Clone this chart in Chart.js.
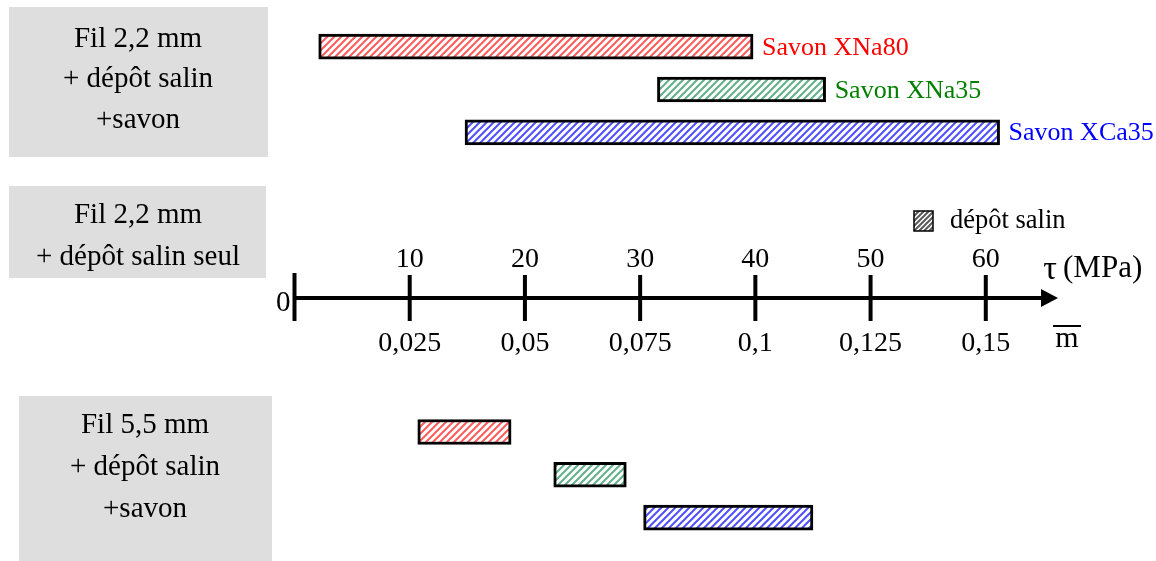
<!DOCTYPE html>
<html lang="fr">
<head>
<meta charset="utf-8">
<title>Plages de contrainte - fil et savons</title>
<script src="https://cdn.jsdelivr.net/npm/chart.js@4.4.1/dist/chart.umd.min.js"></script>
<style>
  html, body { margin: 0; padding: 0; background: #fff; }
  #wrap { width: 1156px; height: 561px; position: relative; }
</style>
</head>
<body>
<div id="wrap"><canvas id="chart"></canvas></div>
<script>
// savons testes
const codes = ["XNa80", "XNa35", "XCa35"];
const soaps = codes.map((c) => "Savon " + c);

// plages de tau (MPa) - fil 2,2 mm + depot salin + savon
const fil22Start = [2.1, 31.5, 14.8];
const fil22End = [39.8, 46.1, 61.2];

// plages de tau (MPa) - fil 5,5 mm + depot salin + savon
const fil55Start = [10.7, 22.5, 30.3];
const fil55End = [18.8, 28.8, 45.0];

// graduations : tau en MPa au-dessus, m barre en dessous
const tauTicks = [0, 10, 20, 30, 40, 50, 60];
const mTicks = ["", "0,025", "0,05", "0,075", "0,1", "0,125", "0,15"];

// lignes du schema (les lignes vides laissent la place a l'axe)
const rows = ["2,2 XNa80", "2,2 XNa35", "2,2 XCa35", "", "", "", "", "", "", "5,5 XNa80", "5,5 XNa35", "5,5 XCa35"];

// textes des cadres gris
const boxTexts = [
  ["Fil 2,2 mm", "+ dépôt salin", "+savon"],
  ["Fil 2,2 mm", "+ dépôt salin seul"],
  ["Fil 5,5 mm", "+ dépôt salin", "+savon"],
];

// ---- mise en page ----
const SERIF = "'Liberation Serif', 'Times New Roman', serif";
const AXIS_Y = 298;
const boxes = [
  { x: 9, y: 7, w: 259, h: 150, cx: 138, base: [47, 87, 128] },
  { x: 9, y: 186, w: 257, h: 92, cx: 138, base: [223, 265] },
  { x: 19, y: 396, w: 253, h: 165, cx: 145, base: [433, 475, 517] },
];
const stripeColors = ["#ff5c5c", "#63b08a", "#5050ff"];
const labelColors = ["#ff0000", "#008000", "#0000ff"];

const canvas = document.getElementById("chart");
const ctx = canvas.getContext("2d");

// hachures obliques couleur sur fond blanc
function hatch(color, size, width) {
  const c = document.createElement("canvas");
  c.width = size;
  c.height = size;
  const g = c.getContext("2d");
  g.fillStyle = "#fff";
  g.fillRect(0, 0, size, size);
  g.strokeStyle = color;
  g.lineWidth = width;
  g.beginPath();
  g.moveTo(-1, size + 1); g.lineTo(size + 1, -1);
  g.moveTo(-1, 1); g.lineTo(1, -1);
  g.moveTo(size - 1, size + 1); g.lineTo(size + 1, size - 1);
  g.stroke();
  return ctx.createPattern(c, "repeat");
}

function text(c, str, x, y, size, color, align) {
  c.font = size + "px " + SERIF;
  c.fillStyle = color;
  c.textAlign = align || "center";
  c.textBaseline = "alphabetic";
  c.fillText(str, x, y);
}

const datasets = codes.map((code, i) => {
  const data = rows.map(() => null);
  data[rows.indexOf("2,2 " + code)] = [fil22Start[i], fil22End[i]];
  data[rows.indexOf("5,5 " + code)] = [fil55Start[i], fil55End[i]];
  return {
    label: soaps[i],
    data: data,
    backgroundColor: hatch(stripeColors[i], 7, 2),
    borderColor: "#000",
    borderWidth: 3,
    borderSkipped: false,
    barThickness: 25,
    grouped: false,
    clip: false,
  };
});

const decor = {
  id: "decor",
  beforeDatasetsDraw(chart) {
    const c = chart.ctx;
    // cadres gris
    boxes.forEach((b, i) => {
      c.fillStyle = "#dedede";
      c.fillRect(b.x, b.y, b.w, b.h);
      boxTexts[i].forEach((line, k) => text(c, line, b.cx, b.base[k], 29, "#000"));
    });
    // legende depot salin
    c.fillStyle = hatch("#5a5a5a", 5, 2);
    c.fillRect(914, 211, 19, 20);
    c.strokeStyle = "#000";
    c.lineWidth = 1.5;
    c.strokeRect(914, 211, 19, 20);
    text(c, "dépôt salin", 950, 228, 26.5, "#000", "left");
  },
  afterDatasetsDraw(chart) {
    const c = chart.ctx;
    const x = chart.scales.x;
    // axe avec fleche
    c.strokeStyle = "#000";
    c.fillStyle = "#000";
    c.lineWidth = 4;
    c.beginPath();
    c.moveTo(x.getPixelForValue(0), AXIS_Y);
    c.lineTo(1044, AXIS_Y);
    c.stroke();
    c.beginPath();
    c.moveTo(1058, AXIS_Y);
    c.lineTo(1041, AXIS_Y - 9);
    c.lineTo(1041, AXIS_Y + 9);
    c.closePath();
    c.fill();
    // graduations
    tauTicks.forEach((v, i) => {
      const px = x.getPixelForValue(v);
      c.beginPath();
      c.moveTo(px, AXIS_Y - (v === 0 ? 25 : 23));
      c.lineTo(px, AXIS_Y + 23);
      c.stroke();
      if (v === 0) {
        text(c, "0", px - 4, AXIS_Y + 13, 29, "#000", "right");
      } else {
        text(c, String(v), px, 267, 28, "#000");
        text(c, mTicks[i], px, 351, 28, "#000");
      }
    });
    text(c, "τ", 1050, 279, 34, "#000");
    text(c, "(MPa)", 1063, 277, 31, "#000", "left");
    text(c, "m", 1067, 347, 30, "#000");
    c.lineWidth = 2;
    c.beginPath();
    c.moveTo(1053, 326);
    c.lineTo(1081, 326);
    c.stroke();
    // noms des savons au bout des barres du fil 2,2 mm
    datasets.forEach((ds, i) => {
      const el = chart.getDatasetMeta(i).data[rows.indexOf("2,2 " + codes[i])];
      text(c, ds.label, el.x + 9, el.y + 8, 26, labelColors[i], "left");
    });
  },
};

new Chart(canvas, {
  type: "bar",
  data: { labels: rows, datasets: datasets },
  options: {
    indexAxis: "y",
    responsive: true,
    maintainAspectRatio: false,
    animation: false,
    layout: { padding: { left: 294.5, right: 55, top: 25.3, bottom: 22 } },
    scales: {
      x: { type: "linear", min: 0, max: 70, display: false },
      y: { type: "category", display: false, offset: true },
    },
    plugins: {
      legend: { display: false },
      tooltip: { enabled: false },
    },
  },
  plugins: [decor],
});
</script>
</body>
</html>
